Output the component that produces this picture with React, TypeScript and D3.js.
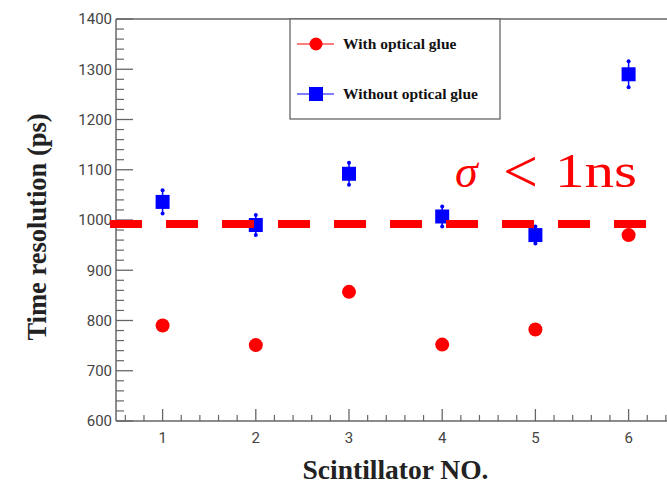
import React from "react";
import * as d3 from "d3";

const scintillators = [1, 2, 3, 4, 5, 6];
const withGlue = [790, 751, 857, 752, 782, 970];
const withoutGlue = [1036, 990, 1092, 1007, 970, 1290];
const withoutGlueErr = [23, 20, 22, 20, 17, 26];
const yTicks = [600, 700, 800, 900, 1000, 1100, 1200, 1300, 1400];
const thresholdValue = 992;
const legendLabels = ["With optical glue", "Without optical glue"];

const W = 667;
const H = 484;
const x = d3.scaleLinear().domain([0.5, 6.5]).range([116, 675.2]);
const y = d3.scaleLinear().domain([600, 1400]).range([421, 19]);

const frameColor = "#666";

export default function App() {
  const yMinor = d3.range(600, 1401, 20).filter((v) => v % 100 !== 0);
  const xMinor = d3.range(0.6, 6.5, 0.2).filter((v) => Math.abs(v - Math.round(v)) > 0.01);
  return (
    <svg width={W} height={H} style={{ position: "absolute", left: 0, top: 0, background: "#fff" }}>
      {/* frame */}
      <line x1={116} x2={116} y1={19} y2={421} stroke={frameColor} strokeWidth={1.5} />
      <line x1={116} x2={W} y1={19} y2={19} stroke={frameColor} strokeWidth={1.5} />
      <line x1={116} x2={W} y1={421} y2={421} stroke={frameColor} strokeWidth={1.5} />
      {/* y ticks */}
      {yTicks.map((t) => (
        <g key={t}>
          <line x1={116} x2={133} y1={y(t)} y2={y(t)} stroke={frameColor} strokeWidth={1.3} />
          <text x={112} y={y(t)} dy="0.35em" textAnchor="end" fontFamily="Roboto, 'Liberation Sans', sans-serif" fontSize={15} fill="#444">
            {t}
          </text>
        </g>
      ))}
      {yMinor.map((t) => (
        <line key={"m" + t} x1={116} x2={124} y1={y(t)} y2={y(t)} stroke={frameColor} strokeWidth={1.2} />
      ))}
      {/* x ticks */}
      {scintillators.map((t) => (
        <g key={"x" + t}>
          <line x1={x(t)} x2={x(t)} y1={421} y2={409} stroke={frameColor} strokeWidth={1.3} />
          <text x={x(t)} y={443} textAnchor="middle" fontFamily="Roboto, 'Liberation Sans', sans-serif" fontSize={15} fill="#444">
            {t}
          </text>
        </g>
      ))}
      {xMinor.map((t) => (
        <line key={"xm" + t} x1={x(t)} x2={x(t)} y1={421} y2={415} stroke={frameColor} strokeWidth={1.2} />
      ))}
      {/* axis titles */}
      <text
        transform={`translate(46,227) rotate(-90)`}
        textAnchor="middle"
        fontFamily="'Liberation Serif', 'DejaVu Serif', serif"
        fontWeight="bold"
        fontSize={26.5}
        fill="#222"
      >
        Time resolution (ps)
      </text>
      <text x={395.5} y={479} textAnchor="middle" fontFamily="'Liberation Serif', 'DejaVu Serif', serif" fontWeight="bold" fontSize={27.5} fill="#222">
        Scintillator NO.
      </text>
      {/* legend */}
      <rect x={290} y={19} width={210} height={100} fill="#fff" stroke={frameColor} strokeWidth={1.3} />
      <line x1={297} x2={334} y1={44} y2={44} stroke="#ff0000" strokeWidth={1.2} />
      <circle cx={316} cy={44} r={6.5} fill="#ff0000" />
      <text x={343} y={49} fontFamily="'Liberation Serif', serif" fontWeight="bold" fontSize={15.5} fill="#111">
        {legendLabels[0]}
      </text>
      <line x1={297} x2={334} y1={94} y2={94} stroke="#0000ff" strokeWidth={1.2} />
      <rect x={309} y={87} width={14} height={14} fill="#0000ff" />
      <text x={343} y={99} fontFamily="'Liberation Serif', serif" fontWeight="bold" fontSize={15.5} fill="#111">
        {legendLabels[1]}
      </text>
      {/* blue points with error bars */}
      {scintillators.map((s, i) => (
        <g key={"b" + s}>
          <line x1={x(s)} x2={x(s)} y1={y(withoutGlue[i] - withoutGlueErr[i])} y2={y(withoutGlue[i] + withoutGlueErr[i])} stroke="#0000ff" strokeWidth={1.5} />
          <circle cx={x(s)} cy={y(withoutGlue[i] - withoutGlueErr[i])} r={2} fill="#0000ff" />
          <circle cx={x(s)} cy={y(withoutGlue[i] + withoutGlueErr[i])} r={2} fill="#0000ff" />
          <rect x={x(s) - 7} y={y(withoutGlue[i]) - 7} width={14} height={14} fill="#0000ff" />
        </g>
      ))}
      {/* threshold dashed line */}
      <line
        x1={110}
        x2={646}
        y1={y(thresholdValue)}
        y2={y(thresholdValue)}
        stroke="#ff0000"
        strokeWidth={8}
        strokeDasharray="32 24"
      />
      {/* red points */}
      {scintillators.map((s, i) => (
        <circle key={"r" + s} cx={x(s)} cy={y(withGlue[i])} r={7} fill="#ff0000" />
      ))}
      {/* annotation */}
      <g fill="#ff0000" fontFamily="'Liberation Serif', 'DejaVu Serif', serif">
        <text x={455} y={187} fontSize={46} fontStyle="italic">σ</text>
        <text x={503} y={192} fontSize={62}>&lt;</text>
        <text x={555} y={187} fontSize={48} textLength={82} lengthAdjust="spacingAndGlyphs">1ns</text>
      </g>
    </svg>
  );
}
